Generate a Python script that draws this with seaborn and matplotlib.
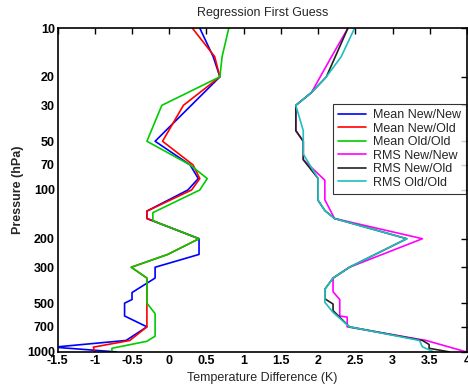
import matplotlib
matplotlib.use("Agg")
import matplotlib.pyplot as plt
import seaborn as sns
import numpy as np
import pandas as pd

# pressure levels (hPa) and temperature differences (K)
p_mean_nn = [10, 15, 20, 50, 70, 85, 100, 135, 150, 200, 250, 300, 350, 430, 475, 500, 600, 700, 850, 935, 1000]
t_mean_nn = [0.41, 0.59, 0.68, -0.19, 0.28, 0.39, 0.25, -0.30, -0.30, 0.40, 0.40, -0.19, -0.19, -0.50, -0.50, -0.60, -0.60, -0.30, -0.58, -1.55, -0.71]

p_mean_no = [10, 15, 20, 30, 50, 70, 85, 100, 135, 150, 200, 250, 300, 350, 500, 700, 850, 935, 1000]
t_mean_no = [0.31, 0.61, 0.68, 0.19, -0.09, 0.32, 0.41, 0.30, -0.30, -0.30, 0.40, -0.02, -0.51, -0.30, -0.30, -0.30, -0.53, -1.02, -1.00]

p_mean_oo = [10, 15, 20, 30, 50, 70, 85, 100, 138, 155, 200, 250, 300, 350, 500, 580, 800, 860, 950, 1000]
t_mean_oo = [0.80, 0.71, 0.68, -0.10, -0.30, 0.28, 0.51, 0.41, -0.22, -0.22, 0.40, -0.02, -0.51, -0.30, -0.30, -0.19, -0.19, -0.30, -0.77, -0.77]

p_rms_nn = [10, 15, 25, 30, 43, 50, 65, 87, 115, 150, 200, 300, 350, 425, 475, 600, 610, 700, 850, 1000]
t_rms_nn = [2.40, 2.18, 1.91, 1.70, 1.70, 1.80, 1.80, 2.09, 2.09, 2.22, 3.40, 2.42, 2.20, 2.20, 2.29, 2.29, 2.39, 2.39, 3.45, 3.99]

p_rms_no = [10, 20, 25, 30, 43, 50, 65, 85, 116, 134, 150, 200, 300, 350, 410, 470, 506, 556, 700, 850, 900, 950, 1000]
t_rms_no = [2.40, 2.11, 1.91, 1.70, 1.70, 1.80, 1.80, 2.00, 2.00, 2.09, 2.22, 3.19, 2.42, 2.20, 2.09, 2.09, 2.20, 2.20, 2.42, 3.40, 3.49, 3.49, 3.76]

p_rms_oo = [10, 15, 20, 25, 30, 43, 60, 85, 116, 134, 150, 200, 300, 350, 410, 494, 570, 700, 850, 930, 1000]
t_rms_oo = [2.49, 2.31, 2.11, 1.91, 1.70, 1.80, 1.80, 2.00, 2.00, 2.09, 2.22, 3.19, 2.42, 2.20, 2.09, 2.09, 2.20, 2.42, 3.36, 3.40, 3.55]

names = ["Mean New/New", "Mean New/Old", "Mean Old/Old", "RMS New/New", "RMS New/Old", "RMS Old/Old"]
colors = ["#0000ff", "#ff0000", "#00cc00", "#ff00ff", "#222222", "#1fbfbf"]

series = [(p_mean_nn, t_mean_nn), (p_mean_no, t_mean_no), (p_mean_oo, t_mean_oo),
          (p_rms_nn, t_rms_nn), (p_rms_no, t_rms_no), (p_rms_oo, t_rms_oo)]
frames = []
for name, (p, t) in zip(names, series):
    frames.append(pd.DataFrame({"p": p, "t": t, "series": name}))
df = pd.concat(frames, ignore_index=True)

sns.set_style("white")
plt.rcParams['font.family'] = ['Liberation Sans', 'DejaVu Sans']

fig = plt.figure(figsize=(4.68, 3.85), dpi=100)
ax = fig.add_axes([0.123, 0.086, 0.875, 0.841])

sns.lineplot(data=df, x="t", y="p", hue="series", hue_order=names,
             palette=colors, sort=False, estimator=None, linewidth=1.2, ax=ax)

ax.set_yscale("log")
ax.set_ylim(1000, 10)
ax.set_xlim(-1.5, 4)
yt = [10, 20, 30, 50, 70, 100, 200, 300, 500, 700, 1000]
ax.set_yticks(yt)
ax.set_yticklabels([str(v) for v in yt])
ax.yaxis.set_minor_locator(matplotlib.ticker.NullLocator())
xt = [-1.5, -1, -0.5, 0, 0.5, 1, 1.5, 2, 2.5, 3, 3.5, 4]
ax.set_xticks(xt)
ax.set_xticklabels(["-1.5", "-1", "-0.5", "0", "0.5", "1", "1.5", "2", "2.5", "3", "3.5", "4"])
ax.tick_params(direction="in", length=4, width=1, top=True, right=True,
               labelsize=9, pad=2, colors="black")
for lab in ax.get_yticklabels() + ax.get_xticklabels():
    lab.set_fontweight("bold")
for s in ax.spines.values():
    s.set_color("black")
    s.set_linewidth(1.2)

ax.set_title("Regression First Guess", fontsize=9, pad=9)
ax.set_xlabel("Temperature Difference (K)", fontsize=9, labelpad=4)
ax.set_ylabel("Pressure (hPa)", fontsize=9, fontweight="bold", labelpad=2)

leg = ax.legend(loc="upper right", bbox_to_anchor=(0.998, 0.765), fontsize=9,
                frameon=True, fancybox=False, handlelength=2.2, borderpad=0.4,
                labelspacing=0.12, handletextpad=0.6, borderaxespad=0)
leg.get_frame().set_edgecolor("black")
leg.get_frame().set_linewidth(0.8)

fig.savefig("out.png", dpi=100)
